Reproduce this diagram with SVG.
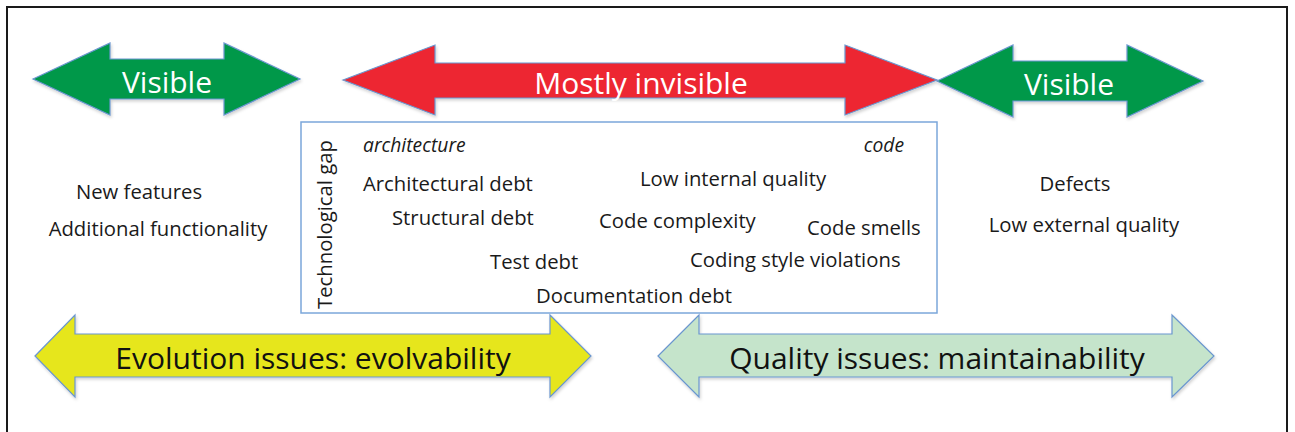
<svg xmlns="http://www.w3.org/2000/svg" width="1295" height="432" viewBox="0 0 1295 432">
  <defs>
    <filter id="sh" x="-5%" y="-20%" width="110%" height="140%">
      <feDropShadow dx="1" dy="2" stdDeviation="1.5" flood-color="#000" flood-opacity="0.18"/>
    </filter>
  </defs>
  <style>
    .arrow { stroke: #6a96cf; stroke-width: 1.2; stroke-linejoin: miter; filter: url(#sh); }
    .green { fill: #00984a; }
    .red { fill: #ed2632; }
    .yellow { fill: #e6e61a; }
    .mint { fill: #c5e4cb; }
    .big { font-family: "Open Sans", "Liberation Sans", sans-serif; font-size: 30px; text-anchor: middle; }
    .white { fill: #ffffff; }
    .dark { fill: #111111; }
    .lbl { font-family: "Open Sans", "Liberation Sans", sans-serif; font-size: 20.3px; fill: #1a1a1a; }
    .it { font-style: italic; font-size: 19.3px; }
    .mid { text-anchor: middle; }
  </style>
  <rect x="0" y="0" width="1295" height="432" fill="#ffffff"/>
  <rect x="7" y="7" width="1280" height="440" fill="none" stroke="#1a1a1a" stroke-width="2"/>

  <g id="visible-left">
    <polygon class="arrow green" points="33,79 110,43 110,59 224,59 224,43 300,79 224,115 224,99 110,99 110,115"/>
    <text class="big white" x="167" y="93">Visible</text>
  </g>

  <g id="mostly-invisible">
    <polygon class="arrow red" points="343,80 435,45 435,63 845,63 845,45 937,80 845,115 845,98 435,98 435,115"/>
    <text class="big white" x="641" y="94">Mostly invisible</text>
  </g>

  <g id="visible-right">
    <polygon class="arrow green" points="937,81 1013,45 1013,61 1127,61 1127,45 1203,81 1127,117 1127,101 1013,101 1013,117"/>
    <text class="big white" x="1069" y="95">Visible</text>
  </g>

  <g id="left-labels">
    <text class="lbl mid" x="139" y="199">New features</text>
    <text class="lbl mid" x="158" y="236">Additional functionality</text>
  </g>

  <g id="right-labels">
    <text class="lbl mid" x="1075" y="191">Defects</text>
    <text class="lbl mid" x="1084" y="232">Low external quality</text>
  </g>

  <g id="technological-gap-box">
    <rect x="301" y="122" width="636" height="191" fill="#ffffff" stroke="#7ba7da" stroke-width="1.5"/>
    <text class="lbl" transform="translate(332,309) rotate(-90)">Technological gap</text>
    <text class="lbl it" x="363" y="152">architecture</text>
    <text class="lbl it" x="904" y="152" text-anchor="end">code</text>
    <text class="lbl" x="363" y="191">Architectural debt</text>
    <text class="lbl" x="640" y="186">Low internal quality</text>
    <text class="lbl" x="392" y="225">Structural debt</text>
    <text class="lbl" x="599" y="228">Code complexity</text>
    <text class="lbl" x="807" y="235">Code smells</text>
    <text class="lbl" x="490" y="269">Test debt</text>
    <text class="lbl" x="690" y="267">Coding style violations</text>
    <text class="lbl" x="536" y="303">Documentation debt</text>
  </g>

  <g id="evolution-issues">
    <polygon class="arrow yellow" points="35,356 75,315 75,334 550,334 550,315 591,356 550,397 550,377 75,377 75,397"/>
    <text class="big dark" x="313" y="369">Evolution issues: evolvability</text>
  </g>

  <g id="quality-issues">
    <polygon class="arrow mint" points="658,356 699,315 699,334 1172,334 1172,315 1214,356 1172,397 1172,377 699,377 699,397"/>
    <text class="big dark" x="937" y="369">Quality issues: maintainability</text>
  </g>
</svg>
